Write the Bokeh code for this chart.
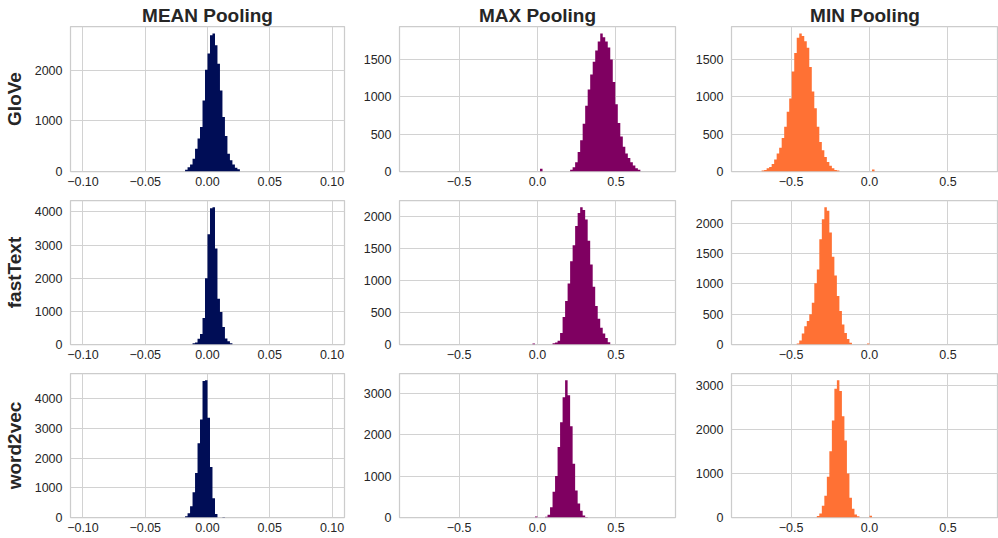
import numpy as np
from bokeh.plotting import figure
from bokeh.models import Range1d, FixedTicker, CustomJSTickFormatter, ColumnDataSource
from bokeh.layouts import row, column
from bokeh.embed import file_html
from bokeh.resources import INLINE

# ---------------- data ----------------
embeddings = ["GloVe", "fastText", "word2vec"]
poolings = ["MEAN Pooling", "MAX Pooling", "MIN Pooling"]

mean_hist_range = (-0.1, 0.1)
maxmin_hist_range = (-0.8, 0.8)
n_bins = 100

# MEAN pooling histograms (left edge of first non-empty bin, counts)
glove_mean_first = -0.018
glove_mean_counts = [35, 85, 140, 250, 450, 650, 880, 1400, 2010, 2330, 2690, 2727,
                     2495, 2130, 1600, 1075, 700, 350, 220, 140, 75, 45]
fasttext_mean_first = -0.012
fasttext_mean_counts = [40, 60, 170, 320, 800, 2000, 3330, 4110, 4140, 2900, 1380, 980,
                        525, 180, 100, 40]
word2vec_mean_first = -0.018
word2vec_mean_counts = [40, 140, 380, 850, 1500, 2500, 3300, 4590, 4615, 3360, 1700, 650, 120]
word2vec_mean_extra_edges = [0.012]
word2vec_mean_extra_counts = [15]

# MAX pooling histograms
glove_max_first = 0.208
glove_max_counts = [22, 58, 125, 260, 420, 640, 880, 1100, 1300, 1470, 1620, 1740, 1850,
                    1800, 1740, 1660, 1500, 1200, 900, 650, 470, 330, 240, 180, 125, 80, 45, 22]
glove_max_extra_edges = [0.016]
glove_max_extra_counts = [36]
fasttext_max_first = 0.096
fasttext_max_counts = [20, 30, 60, 180, 430, 680, 950, 1300, 1550, 1850, 2050, 2140, 2100,
                       1950, 1620, 1250, 900, 600, 400, 260, 170, 100, 36]
fasttext_max_extra_edges = [-0.032]
fasttext_max_extra_counts = [16]
word2vec_max_first = 0.048
word2vec_max_counts = [20, 65, 250, 620, 1000, 1700, 2300, 2900, 3310, 2950, 2200, 1300,
                       650, 340, 160, 50, 12]
word2vec_max_extra_edges = [-0.016]
word2vec_max_extra_counts = [25]

# MIN pooling histograms
glove_min_first = -0.688
glove_min_counts = [15, 20, 45, 60, 100, 160, 240, 320, 450, 600, 800, 980, 1342, 1590,
                    1793, 1851, 1815, 1747, 1658, 1400, 1072, 847, 599, 396, 284, 193, 126,
                    77, 45, 20, 15]
glove_min_extra_edges = [0.016]
glove_min_extra_counts = [27]
fasttext_min_first = -0.464
fasttext_min_counts = [17, 67, 180, 300, 390, 500, 690, 1010, 1240, 1740, 2070, 2265, 2210,
                       1850, 1450, 1140, 800, 555, 330, 190, 90, 27]
fasttext_min_extra_edges = [-0.016]
fasttext_min_extra_counts = [17]
word2vec_min_first = -0.336
word2vec_min_counts = [32, 91, 266, 494, 927, 1503, 2203, 2925, 3114, 2870, 2300, 1750,
                       1000, 450, 200, 70, 30]
word2vec_min_extra_edges = [0.0]
word2vec_min_extra_counts = [40]

# tick values
mean_xticks = [-0.1, -0.05, 0.0, 0.05, 0.1]
maxmin_xticks = [-0.5, 0.0, 0.5]
yticks = {
    ("GloVe", 0): [0, 1000, 2000],
    ("GloVe", 1): [0, 500, 1000, 1500],
    ("GloVe", 2): [0, 500, 1000, 1500],
    ("fastText", 0): [0, 1000, 2000, 3000, 4000],
    ("fastText", 1): [0, 500, 1000, 1500, 2000],
    ("fastText", 2): [0, 500, 1000, 1500, 2000],
    ("word2vec", 0): [0, 1000, 2000, 3000, 4000],
    ("word2vec", 1): [0, 1000, 2000, 3000],
    ("word2vec", 2): [0, 1000, 2000, 3000],
}

panels = {
    ("GloVe", 0): (glove_mean_first, glove_mean_counts, [], []),
    ("fastText", 0): (fasttext_mean_first, fasttext_mean_counts, [], []),
    ("word2vec", 0): (word2vec_mean_first, word2vec_mean_counts,
                      word2vec_mean_extra_edges, word2vec_mean_extra_counts),
    ("GloVe", 1): (glove_max_first, glove_max_counts, glove_max_extra_edges, glove_max_extra_counts),
    ("fastText", 1): (fasttext_max_first, fasttext_max_counts,
                      fasttext_max_extra_edges, fasttext_max_extra_counts),
    ("word2vec", 1): (word2vec_max_first, word2vec_max_counts,
                      word2vec_max_extra_edges, word2vec_max_extra_counts),
    ("GloVe", 2): (glove_min_first, glove_min_counts, glove_min_extra_edges, glove_min_extra_counts),
    ("fastText", 2): (fasttext_min_first, fasttext_min_counts,
                      fasttext_min_extra_edges, fasttext_min_extra_counts),
    ("word2vec", 2): (word2vec_min_first, word2vec_min_counts,
                      word2vec_min_extra_edges, word2vec_min_extra_counts),
}

# ---------------- style / layout ----------------
colors = ["#000d56", "#7f0061", "#ff7134"]
FONT = "Liberation Sans"
TEXT = "#262626"
GRID = "#d2d2d2"
EDGE = "#cccccc"

col_w = [356, 334, 308]
col_bl = [69, 43, 41]
col_br = [12, 15, 0]
row_h = [190, 173, 175]
row_bt = [26, 10, 10]
row_bb = [19, 19, 21]

frame_w = [col_w[i] - col_bl[i] - col_br[i] for i in range(3)]
x_views = [(-0.11, 0.11), (-0.88, 0.88),
           (-0.88, -0.88 + 1.76 * frame_w[2] / frame_w[1])]


def bins_for(ci, first, n):
    lo, hi = mean_hist_range if ci == 0 else maxmin_hist_range
    w = (hi - lo) / n_bins
    k0 = int(round((first - lo) / w))
    return lo + (k0 + np.arange(n + 1)) * w


def make(ri, ci):
    emb = embeddings[ri]
    first, counts, ex_edges, ex_counts = panels[(emb, ci)]
    all_counts = list(counts) + list(ex_counts)
    ymax = max(all_counts) * 1.05
    p = figure(width=col_w[ci], height=row_h[ri],
               x_range=Range1d(*x_views[ci]), y_range=Range1d(0, ymax),
               output_backend="svg", toolbar_location=None, tools="",
               min_border_left=col_bl[ci], min_border_right=col_br[ci],
               min_border_top=row_bt[ri], min_border_bottom=row_bb[ri],
               background_fill_color="white", border_fill_color="white")
    if ri == 0:
        p.title.text = poolings[ci]
        p.title.align = "center"
        p.title.text_font = FONT
        p.title.text_font_size = "19px"
        p.title.text_font_style = "bold"
        p.title.text_color = TEXT
        p.title.standoff = 2
    edges = bins_for(ci, first, len(counts))
    src = ColumnDataSource(dict(x=edges, y1=np.zeros(len(edges)),
                                y2=list(counts) + [0]))
    p.varea_step(x="x", y1="y1", y2="y2", step_mode="after", source=src,
                 fill_color=colors[ci])
    for e, c in zip(ex_edges, ex_counts):
        ed = bins_for(ci, e, 1)
        p.quad(left=ed[0], right=ed[1], bottom=0, top=[c],
               fill_color=colors[ci], line_color=None)

    xt = mean_xticks if ci == 0 else maxmin_xticks
    dec = 2 if ci == 0 else 1
    p.xaxis.ticker = FixedTicker(ticks=xt)
    p.xaxis.formatter = CustomJSTickFormatter(
        code="return (tick < -1e-12 ? '\u2212' : '') + Math.abs(tick).toFixed(%d);" % dec)
    p.yaxis.ticker = FixedTicker(ticks=yticks[(emb, ci)])
    for ax in (p.xaxis[0], p.yaxis[0]):
        ax.axis_line_color = None
        ax.major_tick_line_color = None
        ax.minor_tick_line_color = None
        ax.major_tick_out = 0
        ax.major_tick_in = 0
        ax.minor_tick_out = 0
        ax.minor_tick_in = 0
        ax.major_label_text_font = FONT
        ax.major_label_text_font_size = "12.5px"
        ax.major_label_text_color = TEXT
    p.xaxis.major_label_standoff = 5
    p.yaxis.major_label_standoff = 8
    if ci == 0:
        p.yaxis.axis_label = emb
        p.yaxis.axis_label_text_font = FONT
        p.yaxis.axis_label_text_font_size = "19px"
        p.yaxis.axis_label_text_font_style = "bold"
        p.yaxis.axis_label_text_color = TEXT
        p.yaxis.axis_label_standoff = 7
    p.xgrid.grid_line_color = GRID
    p.ygrid.grid_line_color = GRID
    p.xgrid.grid_line_width = 1
    p.ygrid.grid_line_width = 1
    p.outline_line_color = EDGE
    p.outline_line_width = 1.25
    return p


rows = [row(*[make(ri, ci) for ci in range(3)], spacing=0) for ri in range(3)]
layout = column(*rows, spacing=0)

open("out.html", "w").write(file_html(layout, INLINE))
